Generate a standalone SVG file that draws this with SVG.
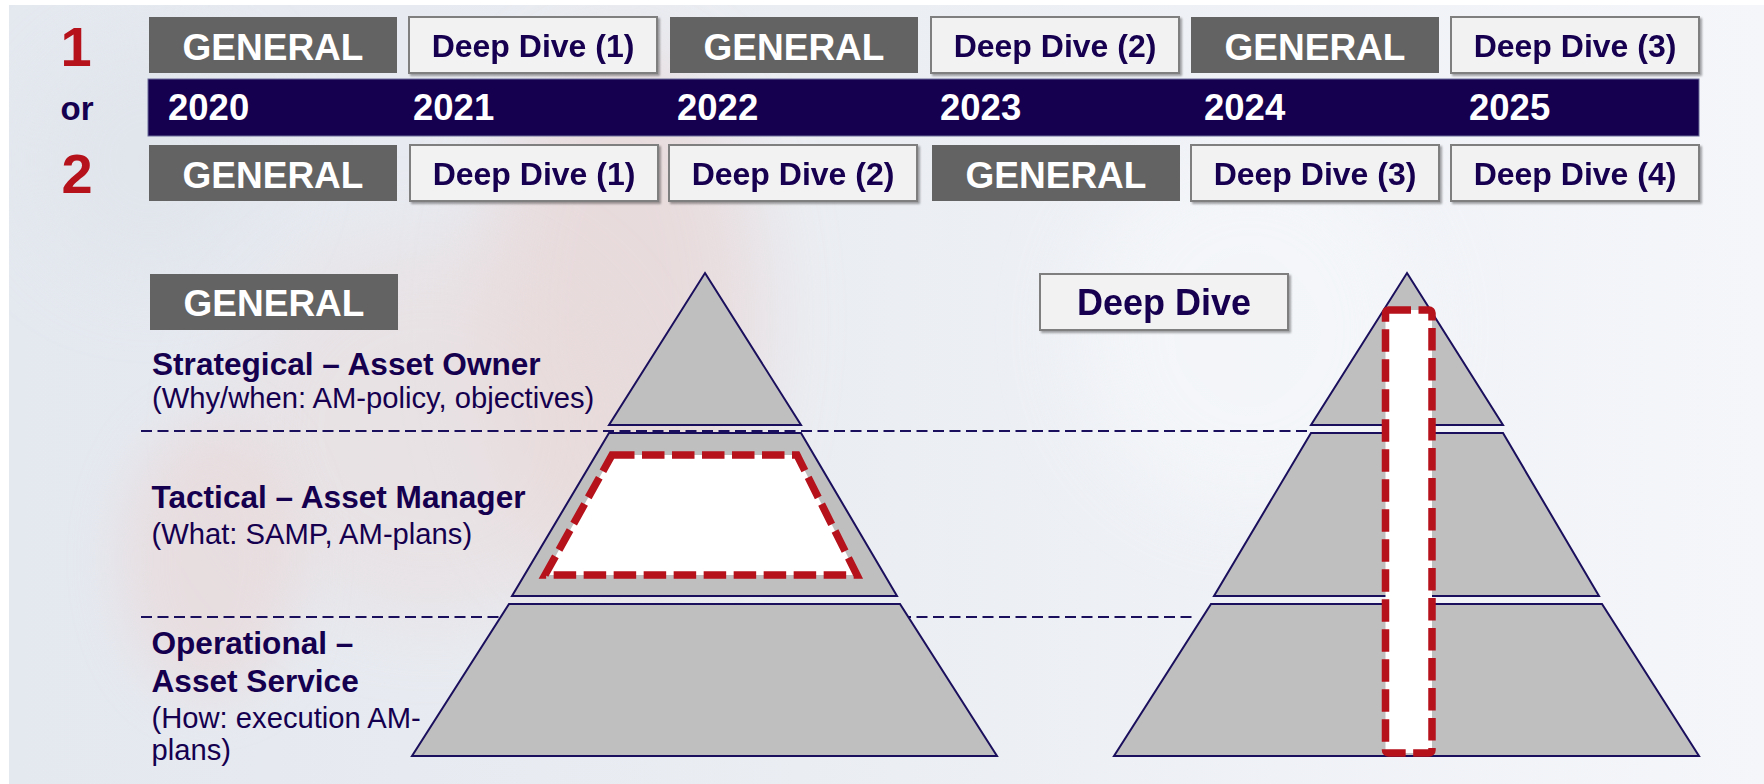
<svg xmlns="http://www.w3.org/2000/svg" width="1764" height="784" viewBox="0 0 1764 784">
  <defs>
    <linearGradient id="bgGrad" x1="0" y1="0" x2="1" y2="0">
      <stop offset="0" stop-color="#e4e8ef"/>
      <stop offset="0.45" stop-color="#eaedf2"/>
      <stop offset="1" stop-color="#f4f6fa"/>
    </linearGradient>
    <filter id="blur40" x="-50%" y="-50%" width="200%" height="200%">
      <feGaussianBlur stdDeviation="40"/>
    </filter>
    <filter id="blur25" x="-50%" y="-50%" width="200%" height="200%">
      <feGaussianBlur stdDeviation="25"/>
    </filter>
    <filter id="shadow" x="-10%" y="-20%" width="130%" height="160%">
      <feGaussianBlur in="SourceAlpha" stdDeviation="1.2"/>
      <feOffset dx="1.5" dy="2" result="o"/>
      <feComponentTransfer><feFuncA type="linear" slope="0.35"/></feComponentTransfer>
      <feMerge><feMergeNode/><feMergeNode in="SourceGraphic"/></feMerge>
    </filter>
    <clipPath id="bgClip"><rect x="9" y="5" width="1755" height="779"/></clipPath>
  </defs>
  <style>
    .gen { fill: #636363; }
    .dd { fill: #f2f2f2; stroke: #7f7f7f; stroke-width: 2; }
    .genT { font-family: "Liberation Sans", Arial, sans-serif; font-weight: bold; font-size: 37px; fill: #ffffff; text-anchor: middle; }
    .ddT { font-family: "Liberation Sans", Arial, sans-serif; font-weight: bold; font-size: 32px; fill: #15004f; text-anchor: middle; }
    .year { font-family: "Liberation Sans", Arial, sans-serif; font-weight: bold; font-size: 36.5px; fill: #ffffff; }
    .num { font-family: "Liberation Sans", Arial, sans-serif; font-weight: bold; font-size: 56px; fill: #b5121b; text-anchor: middle; }
    .or { font-family: "Liberation Sans", Arial, sans-serif; font-weight: bold; font-size: 33px; fill: #15004f; text-anchor: middle; }
    .hd { font-family: "Liberation Sans", Arial, sans-serif; font-weight: bold; font-size: 31.6px; fill: #15004f; }
    .sub { font-family: "Liberation Sans", Arial, sans-serif; font-size: 29.2px; fill: #15004f; }
    .layer { fill: #bfbfbf; stroke: #1a0f5c; stroke-width: 2; stroke-linejoin: miter; }
    .focus { fill: #ffffff; stroke: #b5121b; stroke-width: 7.5; stroke-dasharray: 22.5 7.5; }
    .sep { fill: none; stroke: #1a0f5c; stroke-width: 2; stroke-dasharray: 11 5.5; }
  </style>

  <!-- background -->
  <rect x="0" y="0" width="1764" height="784" fill="#ffffff"/>
  <g id="background" clip-path="url(#bgClip)">
    <rect x="9" y="5" width="1755" height="779" fill="url(#bgGrad)"/>
    <ellipse cx="620" cy="320" rx="140" ry="270" fill="#e8d6d6" opacity="0.75" filter="url(#blur40)"/>
    <ellipse cx="430" cy="430" rx="200" ry="190" fill="#e9dcdc" opacity="0.55" filter="url(#blur40)"/>
    <ellipse cx="210" cy="560" rx="90" ry="140" fill="#e9d7d7" opacity="0.6" filter="url(#blur25)"/>
    <ellipse cx="150" cy="160" rx="120" ry="120" fill="#dfe3ea" opacity="0.6" filter="url(#blur40)"/>
    <ellipse cx="1250" cy="330" rx="170" ry="180" fill="#f6f8fb" opacity="0.7" filter="url(#blur40)"/>
  </g>

  <!-- separators (connectors) -->
  <g id="connectors">
    <line class="sep" x1="141" y1="431" x2="1311" y2="431"/>
    <line class="sep" x1="141" y1="617" x2="1193" y2="617"/>
  </g>

  <!-- option labels -->
  <g id="label-1"><text class="num" x="76" y="66">1</text></g>
  <g id="label-or"><text class="or" x="77" y="120">or</text></g>
  <g id="label-2"><text class="num" x="77" y="193">2</text></g>

  <!-- year bar -->
  <g id="year-bar">
    <rect x="148" y="79" width="1551" height="57" fill="#14004f" stroke="#6a6a99" stroke-width="1"/>
    <text class="year" x="168" y="120">2020</text>
    <text class="year" x="413" y="120">2021</text>
    <text class="year" x="677" y="120">2022</text>
    <text class="year" x="940" y="120">2023</text>
    <text class="year" x="1204" y="120">2024</text>
    <text class="year" x="1469" y="120">2025</text>
  </g>

  <!-- row 1 -->
  <g id="r1-general-2020"><rect class="gen" x="149" y="17" width="248" height="56"/><text class="genT" x="273" y="60">GENERAL</text></g>
  <g id="r1-deepdive-1" filter="url(#shadow)"><rect class="dd" x="409" y="17" width="248" height="56"/><text class="ddT" x="533" y="57">Deep Dive (1)</text></g>
  <g id="r1-general-2022"><rect class="gen" x="670" y="17" width="248" height="56"/><text class="genT" x="794" y="60">GENERAL</text></g>
  <g id="r1-deepdive-2" filter="url(#shadow)"><rect class="dd" x="931" y="17" width="248" height="56"/><text class="ddT" x="1055" y="57">Deep Dive (2)</text></g>
  <g id="r1-general-2024"><rect class="gen" x="1191" y="17" width="248" height="56"/><text class="genT" x="1315" y="60">GENERAL</text></g>
  <g id="r1-deepdive-3" filter="url(#shadow)"><rect class="dd" x="1451" y="17" width="248" height="56"/><text class="ddT" x="1575" y="57">Deep Dive (3)</text></g>

  <!-- row 2 -->
  <g id="r2-general-2020"><rect class="gen" x="149" y="145" width="248" height="56"/><text class="genT" x="273" y="188">GENERAL</text></g>
  <g id="r2-deepdive-1" filter="url(#shadow)"><rect class="dd" x="410" y="145" width="248" height="56"/><text class="ddT" x="534" y="185">Deep Dive (1)</text></g>
  <g id="r2-deepdive-2" filter="url(#shadow)"><rect class="dd" x="669" y="145" width="248" height="56"/><text class="ddT" x="793" y="185">Deep Dive (2)</text></g>
  <g id="r2-general-2023"><rect class="gen" x="932" y="145" width="248" height="56"/><text class="genT" x="1056" y="188">GENERAL</text></g>
  <g id="r2-deepdive-3" filter="url(#shadow)"><rect class="dd" x="1191" y="145" width="248" height="56"/><text class="ddT" x="1315" y="185">Deep Dive (3)</text></g>
  <g id="r2-deepdive-4" filter="url(#shadow)"><rect class="dd" x="1451" y="145" width="248" height="56"/><text class="ddT" x="1575" y="185">Deep Dive (4)</text></g>

  <!-- section titles -->
  <g id="general-title"><rect class="gen" x="150" y="274" width="248" height="56"/><text class="genT" x="274" y="316">GENERAL</text></g>
  <g id="deepdive-title" filter="url(#shadow)"><rect class="dd" x="1040" y="274" width="248" height="56"/><text class="ddT" x="1164" y="315" style="font-size:36px">Deep Dive</text></g>

  <!-- level descriptions -->
  <g id="level-strategical">
    <text class="hd" x="152" y="375">Strategical – Asset Owner</text>
    <text class="sub" x="152" y="408">(Why/when: AM-policy, objectives)</text>
  </g>
  <g id="level-tactical">
    <text class="hd" x="151.5" y="508">Tactical – Asset Manager</text>
    <text class="sub" x="151.5" y="544">(What: SAMP, AM-plans)</text>
  </g>
  <g id="level-operational">
    <text class="hd" x="151.5" y="654">Operational –</text>
    <text class="hd" x="151.5" y="691.5">Asset Service</text>
    <text class="sub" x="151.5" y="728">(How: execution AM-</text>
    <text class="sub" x="151.5" y="759.5">plans)</text>
  </g>

  <!-- general pyramid -->
  <g id="pyramid-general">
    <path class="layer" d="M705,273 L801,425 L609,425 Z"/>
    <path class="layer" d="M609,433 L801,433 L897,596 L512,596 Z"/>
    <path class="layer" d="M509,604 L900,604 L997,756 L412,756 Z"/>
    <path class="focus" d="M612,455 L797,455 L857,575 L545,575 Z"/>
  </g>

  <!-- deep dive pyramid -->
  <g id="pyramid-deepdive">
    <path class="layer" d="M1407,273 L1503,425 L1311,425 Z"/>
    <path class="layer" d="M1311,433 L1503,433 L1599,596 L1214,596 Z"/>
    <path class="layer" d="M1211,604 L1602,604 L1699,756 L1114,756 Z"/>
    <rect class="focus" x="1385.5" y="310" width="46.5" height="443" rx="3"/>
  </g>
</svg>
